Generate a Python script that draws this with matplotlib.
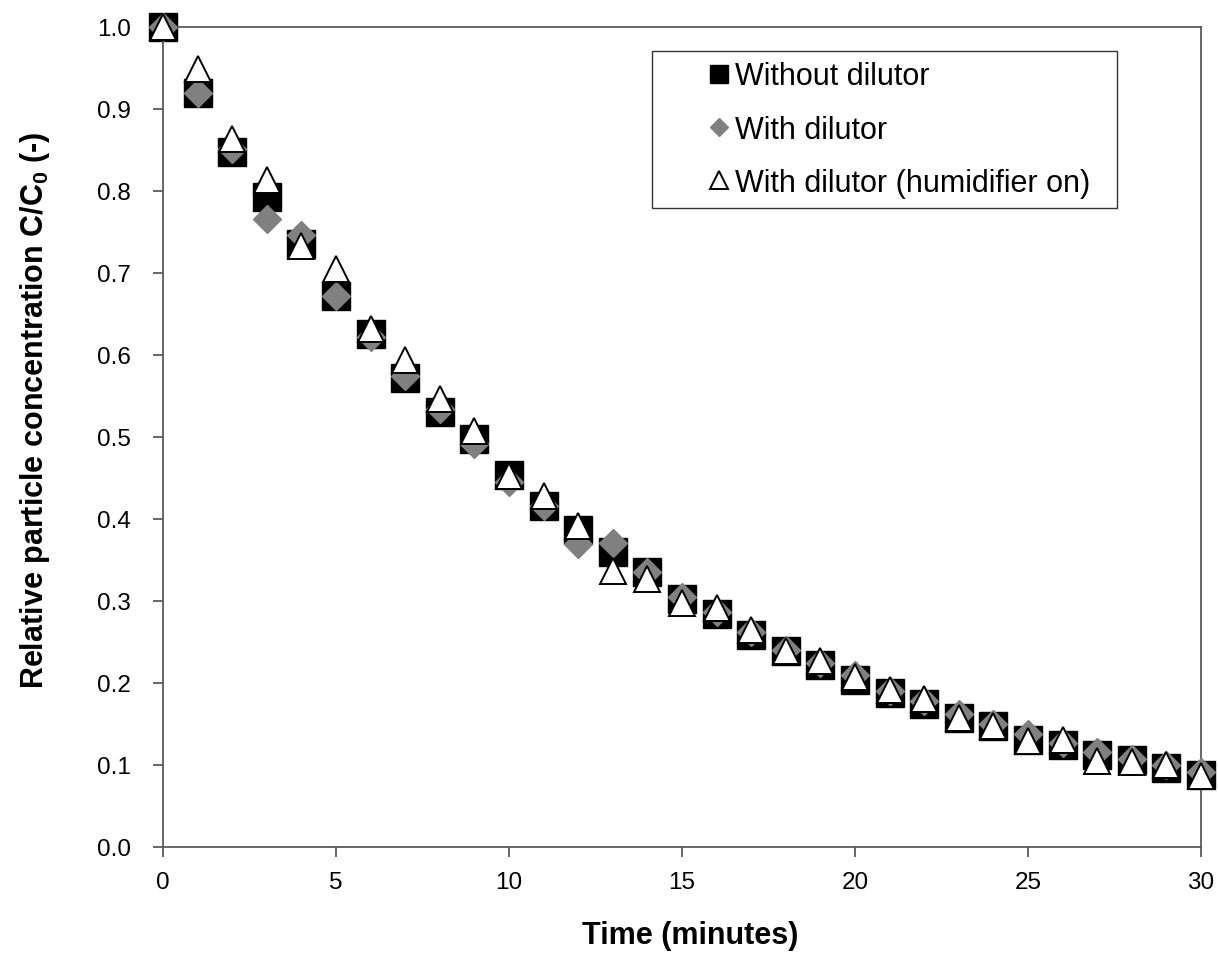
import matplotlib
matplotlib.use("Agg")
import matplotlib.pyplot as plt

plt.rcParams['font.family'] = ['Liberation Sans', 'DejaVu Sans']
plt.rcParams['mathtext.fontset'] = 'custom'
plt.rcParams['mathtext.rm'] = 'Liberation Sans'
plt.rcParams['mathtext.bf'] = 'Liberation Sans:bold'

time_min = list(range(0, 31))
without_dilutor = [1.0, 0.919, 0.848, 0.793, 0.735, 0.672, 0.626, 0.572, 0.531, 0.497,
                   0.454, 0.416, 0.387, 0.360, 0.335, 0.302, 0.284, 0.259, 0.239, 0.222,
                   0.204, 0.188, 0.175, 0.157, 0.147, 0.131, 0.125, 0.112, 0.106, 0.096, 0.088]
with_dilutor = [1.0, 0.919, 0.851, 0.766, 0.746, 0.672, 0.622, 0.575, 0.534, 0.492,
                0.445, 0.416, 0.369, 0.371, 0.335, 0.305, 0.287, 0.262, 0.240, 0.224,
                0.210, 0.190, 0.178, 0.162, 0.150, 0.138, 0.127, 0.116, 0.107, 0.100, 0.091]
with_dilutor_humid = [1.0, 0.949, 0.863, 0.814, 0.733, 0.705, 0.632, 0.594, 0.546, 0.507,
                      0.452, 0.428, 0.391, 0.337, 0.327, 0.298, 0.291, 0.265, 0.239, 0.227,
                      0.207, 0.191, 0.180, 0.157, 0.147, 0.129, 0.131, 0.105, 0.104, 0.100, 0.086]

labels = ['Without dilutor', 'With dilutor', 'With dilutor (humidifier on)']
x_ticks = [0, 5, 10, 15, 20, 25, 30]
y_ticks = [0.0, 0.1, 0.2, 0.3, 0.4, 0.5, 0.6, 0.7, 0.8, 0.9, 1.0]

W, H = 1218, 954
fig = plt.figure(figsize=(W / 100, H / 100), dpi=100)
ax = fig.add_axes([163 / W, 1 - 848 / H, (1201 - 163) / W, (848 - 28) / H])

ax.plot(time_min, without_dilutor, linestyle='none', marker='s', markersize=20,
        markerfacecolor='black', markeredgecolor='black', label=labels[0], clip_on=False, zorder=3)
ax.plot(time_min, with_dilutor, linestyle='none', marker='D', markersize=14,
        markerfacecolor='#808080', markeredgecolor='#808080', label=labels[1], clip_on=False, zorder=4)
ax.plot(time_min, with_dilutor_humid, linestyle='none', marker='^', markersize=19,
        markerfacecolor='white', markeredgecolor='black', markeredgewidth=1.4,
        label=labels[2], clip_on=False, zorder=5)

ax.set_xlim(0, 30)
ax.set_ylim(0, 1.0)
ax.set_xticks(x_ticks)
ax.set_yticks(y_ticks)
ax.set_yticklabels([f'{v:.1f}' for v in y_ticks])

for s in ax.spines.values():
    s.set_color('#5a5a5a')
    s.set_linewidth(1.3)
ax.tick_params(axis='both', direction='out', length=7, width=1.3, color='#5a5a5a',
               labelsize=17.5)
ax.tick_params(axis='y', pad=16)
ax.tick_params(axis='x', pad=10)

ax.set_xlabel('Time (minutes)', fontsize=22, fontweight='bold')
ax.set_ylabel(r'Relative particle concentration C/C$_{\mathbf{0}}$ (-)', fontsize=22,
              fontweight='bold')
ax.xaxis.set_label_coords(0.508, -0.089)
ax.yaxis.set_label_coords(-0.107, 0.534)

leg = ax.legend(loc='upper left',
                bbox_to_anchor=(652 / W, 1 - 207 / H, (1117 - 652) / W, (207 - 52) / H),
                bbox_transform=fig.transFigure, mode='expand', fontsize=22,
                frameon=True, fancybox=False, edgecolor='black',
                borderpad=0.34, handlelength=3.7, handletextpad=-1.32,
                labelspacing=0.76, markerscale=0.65, borderaxespad=0)
leg.get_frame().set_linewidth(1.0)

fig.savefig('out.png', dpi=100)
